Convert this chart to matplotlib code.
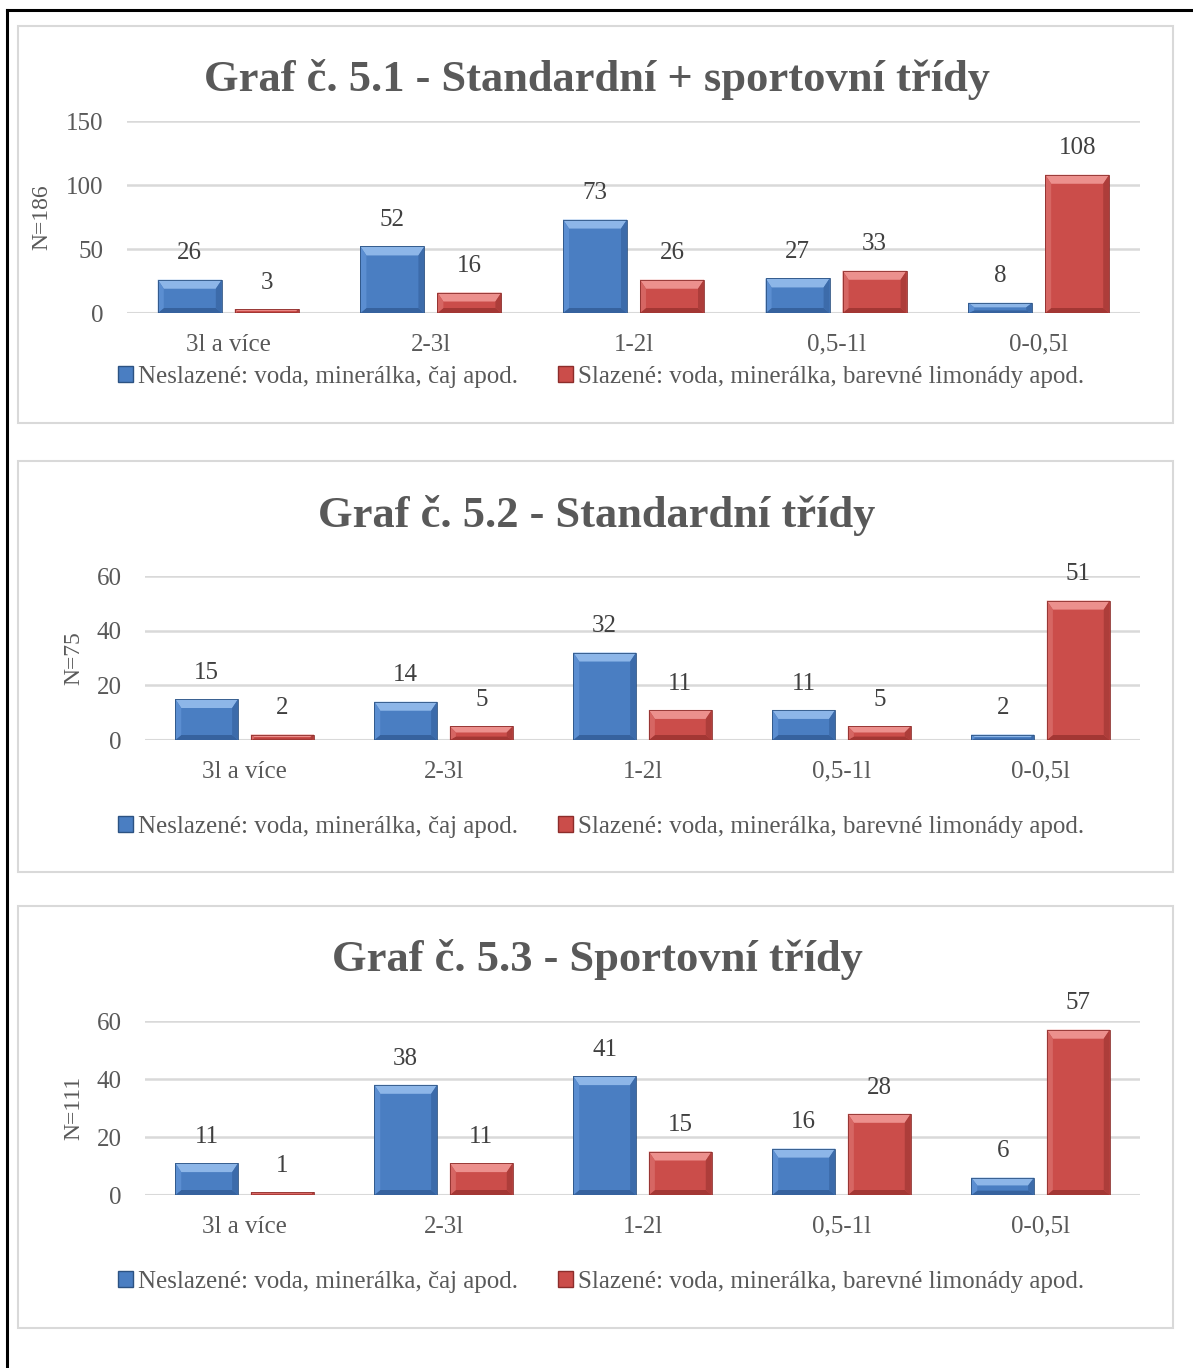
import numpy as np
import matplotlib.pyplot as plt
from matplotlib.patches import Rectangle, Polygon, Patch
from matplotlib.lines import Line2D

plt.rcParams['font.family'] = ['Liberation Serif', 'DejaVu Serif']

# ==================== data ====================
categories = ['3l a více', '2-3l', '1-2l', '0,5-1l', '0-0,5l']
series_names = ['Neslazené: voda, minerálka, čaj apod.',
                'Slazené: voda, minerálka, barevné limonády apod.']

titles = ['Graf č. 5.1 - Standardní + sportovní třídy',
          'Graf č. 5.2 - Standardní třídy',
          'Graf č. 5.3 - Sportovní třídy']
ylabels = ['N=186', 'N=75', 'N=111']

neslazene_all = [26, 52, 73, 27, 8]
slazene_all = [3, 16, 26, 33, 108]
neslazene_std = [15, 14, 32, 11, 2]
slazene_std = [2, 5, 11, 5, 51]
neslazene_sport = [11, 38, 41, 16, 6]
slazene_sport = [1, 11, 15, 28, 57]

yticks_all = [0, 50, 100, 150]
yticks_small = [0, 20, 40, 60]

# ==================== styles ====================
W, H = 1193, 1368
TXT = '#595959'
VAL = '#404040'
GRID = '#d9d9d9'

BLUE = dict(body='#4a7ec2', top='#8db6e8', left='#5b8ed1', right='#3c6baa',
            bottom='#36629e', edge='#2c5282')
RED = dict(body='#cb4d4a', top='#ec908d', left='#d66663', right='#ad3d3a',
           bottom='#a33734', edge='#8c2d2b')

# panel frame (px), axes box (px: left, top, right, bottom), title y, legend y, ylabel x
panels = [
    dict(frame=(18, 26, 1173, 423), ax=(127, 121, 1140, 313), title_y=80,
         leg_y=377, ylab_x=42, ticks=yticks_all,
         data=(neslazene_all, slazene_all)),
    dict(frame=(18, 461, 1173, 872), ax=(145, 576, 1140, 740), title_y=515,
         leg_y=827, ylab_x=74, ticks=yticks_small,
         data=(neslazene_std, slazene_std)),
    dict(frame=(18, 906, 1173, 1328), ax=(145, 1021, 1140, 1195), title_y=960,
         leg_y=1282, ylab_x=74, ticks=yticks_small,
         data=(neslazene_sport, slazene_sport)),
]


def fx(px):
    return px / W


def fy(py):
    return 1 - py / H


def bevel(ax, rect, c):
    """Excel-like bevel on a bar: light top, shaded sides and bottom."""
    tr = ax.transData
    x0, y0 = tr.transform((rect.get_x(), rect.get_y()))
    x1, y1 = tr.transform((rect.get_x() + rect.get_width(),
                           rect.get_y() + rect.get_height()))
    h = y1 - y0
    bt = min(9, h * 0.45)
    bb = min(5, h * 0.25)
    bs = 6 if h > 10 else min(6, h * 0.6)
    inv = tr.inverted()
    shapes = [
        ([(x0, y1), (x1, y1), (x1 - bs, y1 - bt), (x0 + bs, y1 - bt)], c['top']),
        ([(x0, y0), (x1, y0), (x1 - bs, y0 + bb), (x0 + bs, y0 + bb)], c['bottom']),
        ([(x0, y0), (x0 + bs, y0 + bb), (x0 + bs, y1 - bt), (x0, y1)], c['left']),
        ([(x1, y0), (x1 - bs, y0 + bb), (x1 - bs, y1 - bt), (x1, y1)], c['right']),
    ]
    for pts, col in shapes:
        ax.add_patch(Polygon(inv.transform(pts), closed=True, facecolor=col,
                             edgecolor='none', zorder=3))
    ax.add_patch(Rectangle((rect.get_x(), rect.get_y()), rect.get_width(),
                           rect.get_height(), facecolor='none',
                           edgecolor=c['edge'], linewidth=0.6, zorder=4))


fig = plt.figure(figsize=(W / 100, H / 100), dpi=100)

# outer frame: left and top lines only
fig.add_artist(Line2D([fx(7), fx(7)], [fy(10), 0], color='black', linewidth=2.2))
fig.add_artist(Line2D([fx(7), 1], [fy(10), fy(10)], color='black', linewidth=2.2))

x = np.arange(len(categories))
bw = 0.316
off = 0.19

for i, p in enumerate(panels):
    l, t, r, b = p['frame']
    frame = Rectangle((fx(l), fy(b)), fx(r - l), (b - t) / H,
                      transform=fig.transFigure, facecolor='white',
                      edgecolor=GRID, linewidth=1.5, zorder=-1)
    fig.add_artist(frame)

    al, at, ar, ab = p['ax']
    ax = fig.add_axes([fx(al), fy(ab), fx(ar - al), (ab - at) / H])
    ax.patch.set_visible(False)
    ax.set_xlim(-0.5, len(categories) - 0.5)
    ax.set_ylim(0, p['ticks'][-1])
    ax.set_yticks(p['ticks'])
    ax.set_xticks(x)
    ax.set_xticklabels(categories)
    ax.tick_params(axis='both', length=0, labelsize=18, colors=TXT)
    ax.tick_params(axis='x', pad=15)
    ax.tick_params(axis='y', pad=17)
    for s in ax.spines.values():
        s.set_visible(False)
    ax.grid(axis='y', color=GRID, linewidth=1.8)
    ax.set_axisbelow(True)
    ax.axhline(0, color=GRID, linewidth=2.2, zorder=1)

    blue_vals, red_vals = p['data']
    bars_b = ax.bar(x - off, blue_vals, bw, color=BLUE['body'], zorder=2)
    bars_r = ax.bar(x + off, red_vals, bw, color=RED['body'], zorder=2)
    for rect in bars_b:
        bevel(ax, rect, BLUE)
    for rect in bars_r:
        bevel(ax, rect, RED)
    for bars, vals in ((bars_b, blue_vals), (bars_r, red_vals)):
        for rect, v in zip(bars, vals):
            ax.annotate(str(v), (rect.get_x() + rect.get_width() / 2, v),
                        xytext=(0, 11), textcoords='offset points',
                        ha='center', va='bottom', fontsize=18, color=VAL)

    fig.text(fx(597), fy(p['title_y']), titles[i], ha='center', va='center',
             fontsize=32, fontweight='bold', color=TXT)
    fig.text(fx(p['ylab_x']), fy((at + ab) / 2), ylabels[i], rotation=90,
             ha='center', va='center', fontsize=17, color=TXT)

    handles = [Patch(facecolor=BLUE['body'], edgecolor=BLUE['edge']),
               Patch(facecolor=RED['body'], edgecolor=RED['edge'])]
    fig.legend(handles, series_names, loc='center',
               bbox_to_anchor=(fx(601), fy(p['leg_y'])), ncol=2, frameon=False,
               fontsize=18, labelcolor=TXT, handlelength=0.6, handleheight=0.6,
               handletextpad=0.2, columnspacing=1.6, borderpad=0)

plt.savefig('out.png', dpi=100)
